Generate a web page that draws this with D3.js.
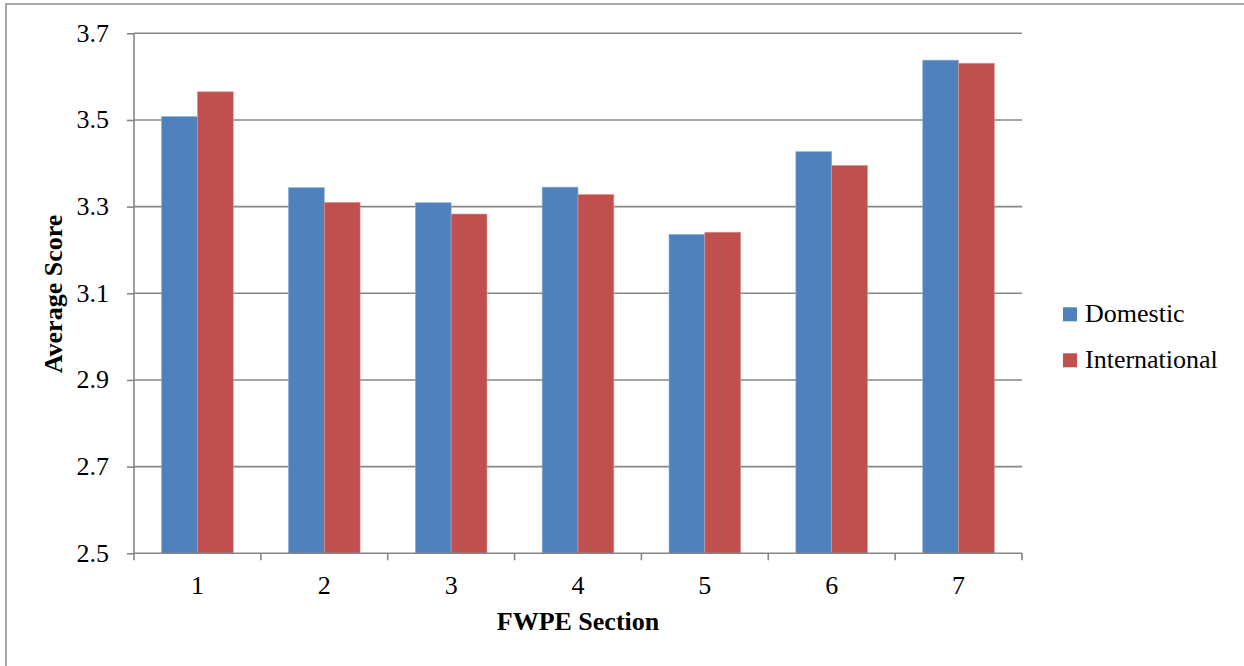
<!DOCTYPE html>
<html><head><meta charset="utf-8">
<script src="https://cdn.jsdelivr.net/npm/d3@7"></script>
</head><body style="margin:0;background:#fff"><svg id="c" width="1244" height="666" style="display:block;font-family:'Liberation Serif','Times New Roman',Tinos,serif"></svg>
<script>
const categories = ["1","2","3","4","5","6","7"];
const seriesNames = ["Domestic","International"];
const domestic = [3.508, 3.344, 3.309, 3.345, 3.236, 3.427, 3.638];
const international = [3.565, 3.310, 3.283, 3.328, 3.241, 3.395, 3.631];
const yTicks = [2.5, 2.7, 2.9, 3.1, 3.3, 3.5, 3.7];
const colors = ["#4F81BD", "#C0504D"];

const svg = d3.select("#c");
const L = 134, R = 1022, T = 33.3, B = 553.3;
const grid = "#868686";
const FF = "'Liberation Serif','Times New Roman',Tinos,serif";

function serif(sel, size, bold){
  sel.attr("font-family", FF).style("font-family", FF)
     .attr("font-size", size).style("font-size", size + "px")
     .attr("fill", "#000");
  if (bold) sel.attr("font-weight","bold").style("font-weight","bold");
  return sel;
}

svg.append("rect").attr("x",6).attr("y",4).attr("width",1250).attr("height",700)
  .attr("fill","none").attr("stroke","#8c8c8c").attr("stroke-width",1.5);

const x0 = d3.scaleBand().domain(categories).range([L,R]).paddingInner(0).paddingOuter(0);
const gw = x0.bandwidth();
const barW = gw/3.54;
const y = d3.scaleLinear().domain([2.5,3.7]).range([B,T]);

svg.append("g").selectAll("line").data(yTicks.slice(1)).join("line")
  .attr("x1",L).attr("x2",R).attr("y1",d=>y(d)).attr("y2",d=>y(d))
  .attr("stroke",grid).attr("stroke-width",1.6);

const data = categories.map((c,i)=>({c, v:[domestic[i], international[i]]}));
const g = svg.append("g").selectAll("g").data(data).join("g");
g.selectAll("rect").data(d=>d.v.map((v,k)=>({c:d.c,v,k}))).join("rect")
  .attr("x",d=>x0(d.c)+gw/2 - barW + d.k*barW)
  .attr("width",barW)
  .attr("y",d=>y(d.v)).attr("height",d=>y(2.5)-y(d.v))
  .attr("fill",d=>colors[d.k])
  .attr("stroke",d=>d.k===0?"#8fb0d8":"#dc9896").attr("stroke-width",0.6);

const ya = svg.append("g").attr("transform",`translate(${L},0)`)
  .call(d3.axisLeft(y).tickValues(yTicks).tickFormat(d3.format(".1f")).tickSize(7).tickPadding(18));
ya.attr("font-family", FF).attr("font-size", 26);
ya.select(".domain").attr("stroke",grid).attr("stroke-width",1.6).attr("d",`M0,${T}V${B}`);
ya.selectAll(".tick line").attr("stroke",grid).attr("stroke-width",1.6);
serif(ya.selectAll(".tick text"), 26).attr("dy","0.3em");

const xa = svg.append("g").attr("transform",`translate(0,${B})`)
  .call(d3.axisBottom(x0).tickSize(0).tickPadding(22));
xa.attr("font-family", FF).attr("font-size", 26);
xa.select(".domain").attr("stroke",grid).attr("stroke-width",1.6).attr("d",`M${L},0H${R}`);
serif(xa.selectAll(".tick text"), 26);
svg.append("g").selectAll("line").data(d3.range(categories.length+1)).join("line")
  .attr("x1",i=>L+i*gw).attr("x2",i=>L+i*gw).attr("y1",B).attr("y2",B+7)
  .attr("stroke",grid).attr("stroke-width",1.6);

serif(svg.append("text").attr("x",578).attr("y",629.5).attr("text-anchor","middle"), 26, true).text("FWPE Section");
serif(svg.append("text").attr("transform",`translate(62,294) rotate(-90)`).attr("text-anchor","middle"), 26, true).text("Average Score");

const lg = svg.append("g").selectAll("g").data(seriesNames).join("g")
  .attr("transform",(d,i)=>`translate(1063,${307.3+i*46})`);
lg.append("rect").attr("width",14).attr("height",14).attr("fill",(d,i)=>colors[i]);
serif(lg.append("text").attr("x",22).attr("y",15), 26).text(d=>d);
</script></body></html>
